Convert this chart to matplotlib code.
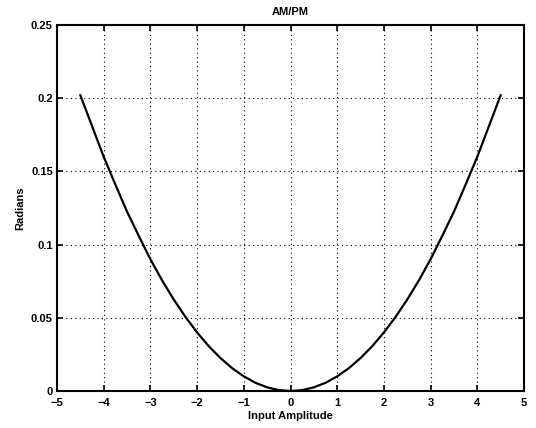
import numpy as np
import matplotlib
matplotlib.use("Agg")
import matplotlib.pyplot as plt

# Values
x_vals = [-4.5, -4.25, -4.0, -3.75, -3.5, -3.25, -3.0, -2.75, -2.5, -2.25, -2.0,
          -1.75, -1.5, -1.25, -1.0, -0.75, -0.5, -0.25, 0.0,
          0.25, 0.5, 0.75, 1.0, 1.25, 1.5, 1.75, 2.0, 2.25, 2.5, 2.75, 3.0,
          3.25, 3.5, 3.75, 4.0, 4.25, 4.5]
y_vals = [0.202, 0.181, 0.160, 0.141, 0.1225, 0.106, 0.090, 0.0756, 0.0625, 0.0506, 0.040,
          0.0306, 0.0225, 0.0156, 0.010, 0.0056, 0.0025, 0.0006, 0.0,
          0.0006, 0.0025, 0.0056, 0.010, 0.0156, 0.0225, 0.0306, 0.040, 0.0506, 0.0625, 0.0756, 0.090,
          0.106, 0.1225, 0.141, 0.160, 0.181, 0.202]
x_ticks = [-5, -4, -3, -2, -1, 0, 1, 2, 3, 4, 5]
x_tick_labels = ["\u22125", "\u22124", "\u22123", "\u22122", "\u22121", "0", "1", "2", "3", "4", "5"]
y_ticks = [0, 0.05, 0.1, 0.15, 0.2, 0.25]
y_tick_labels = ["0", "0.05", "0.1", "0.15", "0.2", "0.25"]

plt.rcParams['font.family'] = ['Liberation Sans', 'DejaVu Sans']
plt.rcParams['font.weight'] = 'bold'

fig = plt.figure(figsize=(5.36, 4.28), dpi=100)
ax = fig.add_axes([57/536, 1 - 391/428, (524-57)/536, (391-25)/428])

ax.plot(x_vals, y_vals, color='black', linewidth=1.6)
ax.set_xlim(-5, 5)
ax.set_ylim(0, 0.25)
ax.set_xticks(x_ticks)
ax.set_xticklabels(x_tick_labels)
ax.set_yticks(y_ticks)
ax.set_yticklabels(y_tick_labels)
ax.grid(True, linestyle=(0, (1, 3)), color='black', linewidth=0.8)
ax.tick_params(direction='in', length=4, width=1.2, top=True, right=True,
               labelsize=8, pad=3)
ax.tick_params(axis='x', pad=5)
for lab in ax.get_xticklabels() + ax.get_yticklabels():
    lab.set_fontweight('bold')
for s in ax.spines.values():
    s.set_linewidth(1.5)

ax.set_title("AM/PM", fontsize=8, fontweight='bold', pad=7)
ax.set_xlabel("Input Amplitude", fontsize=8, fontweight='bold', labelpad=2)
ax.set_ylabel("Radians", fontsize=8, fontweight='bold', labelpad=4)

fig.savefig("out.png", dpi=100)
